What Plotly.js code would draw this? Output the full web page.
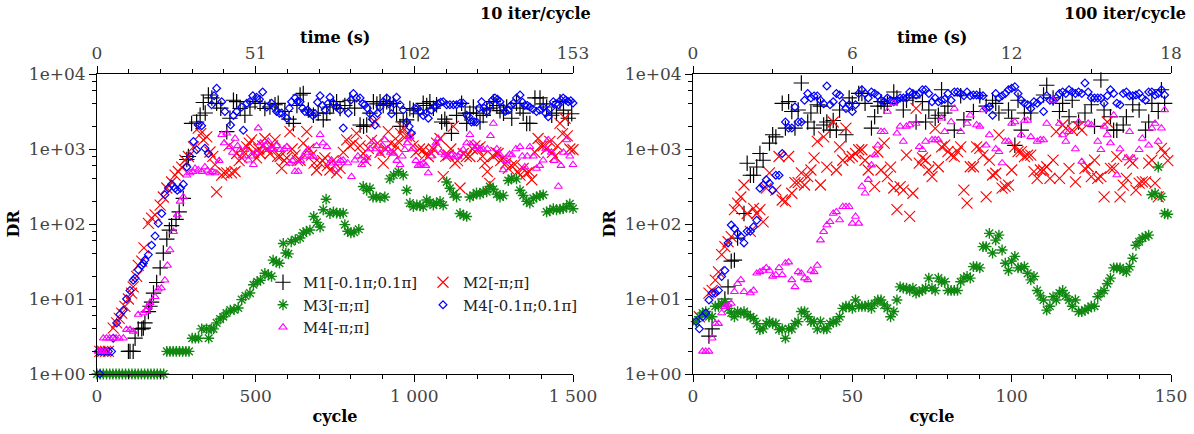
<!DOCTYPE html>
<html>
<head>
<meta charset="utf-8">
<script src="https://cdn.plot.ly/plotly-3.0.1.min.js"></script>
<style>html,body{margin:0;padding:0;background:#fff;}#chart{width:1194px;height:434px;}</style>
</head>
<body>
<div id="chart"></div>
<script>
// ---------------- data: left panel (10 iter/cycle) ----------------
const L_M1_cycle = [99,104,114,120,130,141,146,151,162,167,172,178,188,199,209,220,228,235,249,259,272,283,288,298,314,325,335,341,351,362,377,390,409,419,430,440,451,466,482,498,514,529,545,561,571,592,605,619,630,640,650,666,682,697,713,724,734,745,755,766,781,797,812,829,840,850,860,871,882,892,902,913,923,934,944,955,965,976,986,997,1012,1028,1039,1049,1060,1070,1086,1096,1102,1117,1133,1149,1160,1165,1175,1186,1196,1207,1217,1228,1238,1249,1260,1270,1281,1291,1307,1322,1333,1343,1354,1364,1380,1396,1406,1417,1433,1448,1459,1470,1485,1496];
const L_M1_DR = [2,2,2,3,4,4,4.1,4.8,6.8,8,9.1,12,16.6,26,41,63,83,95,115,145,219,724,794,2190,2290,2820,4170,3020,5250,4790,4070,3500,1700,2570,4470,4270,3470,2820,3630,4270,4070,3470,3630,3890,4070,3160,2500,2190,3800,5250,5500,3310,2820,3020,2450,3000,3630,3890,4270,3470,3800,4470,3500,2090,2000,2090,3000,4270,4000,4270,3800,4270,4000,4070,3000,2000,2300,2450,3470,3300,2950,4070,3800,4270,3500,3890,2290,2500,2190,1620,2800,4070,3000,2190,3000,3630,3000,2290,2800,3310,3500,4270,3800,3240,3000,3630,2570,4070,3500,3000,2190,2190,4790,4790,4000,3630,2820,3000,4270,3300,2570,2950];

const L_M2_cycle = [9,18,27,36,51,62,70,78,88,99,109,114,125,130,141,148,162,172,183,199,209,220,235,246,256,267,277,288,304,319,327,335,346,356,365,372,377,393,400,409,416,424,435,440,448,456,464,472,480,487,494,503,510,514,522,529,537,545,553,561,569,577,582,590,598,608,615,624,632,640,650,661,668,676,684,692,703,711,718,726,734,744,755,766,776,787,797,808,818,829,839,847,855,865,876,884,892,902,910,918,926,934,942,949,957,965,975,986,996,1005,1016,1028,1036,1044,1052,1060,1070,1081,1091,1099,1107,1115,1123,1128,1136,1144,1154,1164,1175,1183,1191,1199,1207,1215,1222,1230,1238,1249,1257,1264,1272,1280,1288,1296,1306,1317,1325,1333,1343,1354,1362,1370,1380,1390,1398,1406,1416,1427,1435,1443,1451,1459,1467,1475,1482,1490,1500];
const L_M2_DR = [2,2,2,2,4.1,4.8,5.5,6.5,8,10,12,14.5,20,28,32,48,102,120,132,178,229,302,363,447,501,575,708,794,1070,1900,1600,1320,1450,912,800,617,269,447,480,479,1120,479,501,871,700,759,900,1070,1200,1320,900,759,1000,871,1100,1380,1000,871,1100,1320,800,794,550,700,759,1700,1000,830,700,708,1200,1700,1000,830,650,525,650,700,759,600,525,700,479,550,900,1320,1100,1200,1620,1100,871,700,1020,1300,2290,1200,900,646,1000,1700,1200,912,1100,1260,1600,1900,1500,1450,1100,900,1000,977,850,794,900,1000,1200,1380,427,800,832,1000,2000,650,700,302,871,800,794,1000,1100,1000,1070,800,646,500,347,794,900,871,700,759,650,550,600,617,500,447,550,479,500,389,900,1380,1100,1100,1000,1260,900,794,1100,2190,1600,2570,1500,1000,977];

const L_M3_cycle = [0,10,20,30,40,50,60,70,80,90,100,110,120,130,140,150,160,170,180,190,200,210,220,230,240,250,260,270,280,290,300,310,320,330,345,352,360,367,377,388,398,408,420,432,445,456,468,482,493,505,515,529,540,550,555,565,575,587,595,603,612,625,640,650,660,671,683,693,703,713,722,734,745,755,766,776,781,790,800,810,825,839,850,860,870,880,892,907,923,935,950,965,976,986,997,1008,1018,1028,1039,1049,1060,1070,1081,1091,1102,1112,1123,1133,1144,1155,1165,1175,1186,1196,1207,1217,1228,1238,1249,1260,1270,1280,1296,1306,1322,1333,1343,1354,1364,1375,1385,1396,1406,1417,1427,1438,1448,1459,1469,1480,1490,1500];
const L_M3_DR = [1,1,1,1,1,1,1,1,1,1,1,1,1,1,1,1,1,1,1,1,1,1,2,2,2,2,2,2,2,2,3,3,3,4,4,3,4,4,4.8,5.4,5.8,6.5,7.1,7.2,7.6,9.8,11,12,15.5,17,17.8,22,21,20,33,31,30,55,41,40,58,62,65,76,80,83,126,105,91,155,214,138,145,140,138,140,98,80,76,78,85,316,282,300,229,229,225,229,400,450,500,450,282,190,170,180,175,170,209,195,178,190,200,178,363,300,250,229,138,130,126,229,240,260,250,269,269,316,290,250,229,240,380,407,400,282,240,200,190,220,229,240,245,145,150,160,155,158,160,170,186,160];

const L_M4a_cycle = [9,4,14,25,36,46,51,62,72,83,93,104,114,120,130,141,146,151,162,172,183,193,204,214,225,235,246,253,263,272,283,293,304,314,319,330,340,351,361,369,377,393,403,421,430,440,456,461,472,482,491,503,512,522,535,550,558,566,575,582,598,606,613,624,632,640,648,655,664,671,680,687,695,703,711,719,727,734,745,755,766,776,792,800,808,818,829,837,844,852,860,868,876,884,892,902,913,920,928,936,944,955,965,976,984,991,1002,1010,1018,1028,1036,1044,1054,1065,1075,1083,1091,1102,1112,1123,1133,1144,1154,1165,1172,1180,1188,1196,1204,1212,1220,1228,1238,1246,1254,1262,1270,1278,1286,1296,1304,1312,1322,1333,1341,1348,1356,1364,1374,1385,1395,1406,1414,1422,1430,1438,1446,1454,1462,1469,1477,1485,1493,1500];
const L_M4a_DR = [1,2,2,2,2,2,3,4.8,6.2,7.1,10,13,17.8,19,24.5,28,30,33,39,52,69,102,138,245,302,339,300,282,300,339,575,794,1260,977,2090,2040,1020,871,3890,5130,6460,4270,3160,2090,2800,3160,3630,1780,4070,4300,5130,4900,4600,5750,3630,4070,3600,3160,3000,3020,2570,3500,4270,4790,4300,4270,3500,3160,3300,3020,2800,2950,4200,5130,3800,3310,4000,4900,4070,3630,3310,1900,3020,4500,5500,4790,4790,4000,3890,3500,2950,2500,2090,3000,3630,4270,4790,4000,2950,4000,4900,3900,3300,2290,2000,1620,3470,3500,3160,2800,3000,2570,3300,3630,4000,4200,4270,3900,3890,3890,3890,4070,4070,2820,2700,2290,2300,2290,3500,4270,3500,3160,3800,4500,4790,4600,4270,3600,3160,3300,3800,4070,4800,5250,4200,3800,3800,3630,3400,3160,3300,3630,3000,2690,3500,4270,4000,3890,4500,4790,4500,4270,4400,4100];

const L_M4b_cycle = [4,12,20,30,20,30,40,50,60,70,83,93,104,114,130,146,155,162,167,183,193,203,214,222,230,241,253,262,272,283,293,302,309,319,330,340,348,356,364,372,385,393,401,409,419,427,435,443,451,458,466,477,485,493,500,508,516,524,532,540,548,556,566,577,590,598,608,616,624,634,642,650,658,666,674,682,692,703,712,724,734,739,750,760,768,776,790,802,813,822,834,843,850,860,871,880,892,900,907,916,925,934,945,955,962,970,978,986,996,1005,1012,1020,1028,1036,1044,1052,1060,1068,1075,1085,1096,1106,1117,1128,1138,1146,1154,1165,1175,1185,1196,1206,1217,1230,1240,1249,1260,1270,1280,1290,1300,1307,1320,1333,1340,1348,1356,1364,1375,1385,1395,1406,1414,1422,1432,1441,1454,1462,1470,1480,1490,1500];
const L_M4b_DR = [2,2,2,2,3,3,3,3,3,3,3,3.9,3.9,3.7,6.2,6.5,7,7.9,8.9,10.7,13.5,14,17.8,28,45,79,132,200,229,447,479,500,550,525,500,575,520,479,500,479,700,1550,1200,1620,1070,900,1380,1100,977,800,977,708,800,617,900,1900,1200,977,1100,1260,1000,1000,1100,977,1000,1070,646,700,501,501,700,794,900,977,800,794,1100,1550,1200,1070,646,708,525,650,700,708,650,427,708,800,617,700,759,1000,1260,1000,871,1100,1320,1000,900,871,700,617,800,977,1200,1450,1000,700,600,620,646,600,479,800,977,1200,1380,900,830,800,830,800,794,900,977,1200,1550,1200,1070,1000,977,1000,1500,2190,1000,830,525,700,850,830,1000,1070,800,575,800,1070,800,550,600,708,1000,1320,900,700,316,600,900,1320,800,617];

// ---------------- data: right panel (100 iter/cycle) ----------------
const R_M1_cycle = [5,6,10,11,12,13,14,16,17,18,19,20,21,22,24,25,26,28,29,30,31,32,33,34,36,37,38,39,40,41,42,43,44,45,46,48,49,50,52,53,54,56,57,58,59,60,61,63,64,66,67,69,70,72,73,74,76,77,78,79,80,82,84,85,88,90,92,94,95,96,99,100,101,102,103,104,106,110,111,113,115,116,118,119,121,123,125,126,128,129,131,132,133,135,136,138,140,142,143,144,146,147,148];
const R_M1_DR = [3.2,4,10,14.5,32,33,65,138,646,447,447,575,871,708,1200,1550,1450,4070,1900,4270,3160,1900,3310,7590,2290,3020,1900,3890,3720,2090,2290,1780,2400,1780,3310,1550,4790,4070,5500,5500,4070,1900,2690,3720,4270,3720,4070,5750,4790,3310,4470,4790,2290,4270,2290,3310,2570,2820,6170,3020,3720,1780,5130,2450,3160,5130,3720,4470,4070,3020,3310,2570,1120,4470,1780,3020,3020,5250,7080,4790,3160,4070,2690,4470,2290,3020,3890,2000,8320,3310,2690,1780,1780,2090,2690,3890,3310,1780,2290,4070,3160,6170,4070];

const R_M2_cycle = [2,5,6,7,8,9,10,11,12,13,14,15,16,17,18,19,20,21,22,23,24,26,27,28,29,30,31,32,33,34,35,36,37,38,39,40,41,42,44,45,46,47,48,49,50,51,52,53,54,55,57,58,59,60,61,62,63,64,65,66,67,68,69,70,71,72,73,74,75,76,77,78,79,80,81,82,83,84,85,86,87,88,89,90,91,92,93,94,95,96,97,98,99,100,101,102,103,104,105,106,107,108,109,110,111,112,113,114,115,116,117,118,119,120,121,122,123,124,125,126,127,128,129,130,131,132,133,134,135,136,137,138,139,140,141,142,143,144,145,146,147,148,149];
const R_M2_DR = [5.8,12,13,17.8,23,39,50,58,68,155,190,229,331,138,80,162,138,155,107,300,479,282,794,209,200,794,257,355,355,479,331,427,525,759,1260,331,1450,575,2290,525,1070,708,1900,759,794,871,977,977,708,525,316,912,525,1200,427,575,302,155,316,282,830,126,257,3470,646,759,708,525,427,1890,580,1070,1130,920,830,790,920,1070,282,190,580,580,1070,1020,830,230,710,450,475,1540,300,316,330,525,1070,920,920,790,830,830,500,407,525,525,580,407,710,1700,407,2090,1890,550,1780,365,1990,1780,550,580,427,710,407,427,230,2290,550,550,790,230,330,407,710,650,282,350,365,365,650,710,350,230,1020,880,700];

const R_M3_cycle = [1,2,3,4,5,6,7,8,9,10,11,12,13,14,15,16,17,18,19,20,21,22,23,24,25,26,27,28,29,30,31,32,33,34,35,36,37,38,39,40,41,42,43,44,45,46,47,48,49,50,51,52,53,54,55,56,57,58,59,60,61,62,63,64,65,66,67,68,69,70,71,72,73,74,75,76,77,78,79,80,81,82,83,84,85,86,87,88,89,90,91,92,93,94,95,96,97,98,99,100,101,102,103,104,105,106,107,108,109,110,111,112,113,114,115,116,117,118,119,120,121,122,123,124,125,126,127,128,129,130,131,132,133,134,135,136,137,138,139,140,141,142,143,144,145,146,147,148,149];
const R_M3_DR = [5,5.8,6.5,6.8,5.8,5.8,8,8,8.7,9.2,7.5,6.5,5.8,6.8,6.5,6.8,6.2,5.8,5.5,4.7,3.9,4,4.7,5,4.7,4.7,3.9,4,3,4,4,4.7,5,6.8,6.8,5.8,5,5,4,5,4,4,4.7,5,5,5.8,7.5,8,8,7.5,9.7,8,8,8,8.3,7.5,8.7,9.7,9.7,8.3,7.5,5.8,6.8,9.7,14.5,14,14,13,14,12,12.5,13,14,19,14,13,19,17,17,13,13,13,13,17,19,20,19,27,27,26,50,50,75,41,61,71,45,30,24,32,37,26,26,27,22,18,20,13,11,9.7,7.1,8,10.7,9.7,12,13,11,9.7,8,9.7,6.8,6.8,7.1,7.5,8,8,10.7,12,13,16,19,26,26,26,24,23,27,35,52,58,65,68,71,245,257,575,232,138,135];

const R_M4a_cycle = [1,2,3,4,5,6,7,8,9,10,11,12,13,14,15,16,17,18,19,20,21,22,23,24,25,26,27,28,29,30,31,32,33,34,35,36,37,38,39,40,41,42,43,44,45,46,47,48,49,50,51,52,53,54,55,56,57,58,59,60,61,62,63,64,65,66,67,68,69,70,71,72,73,74,75,76,77,78,79,80,81,82,83,84,85,86,87,88,89,90,91,92,93,94,95,96,97,98,99,100,101,102,103,104,105,106,107,108,109,110,111,112,113,114,115,116,117,118,119,120,121,122,123,124,125,126,127,128,129,130,131,132,133,134,135,136,137,138,139,140,141,142,143,144,145,146,147,148];
const R_M4a_DR = [5,4,5.8,6.5,9.7,12,12,13,20,24,56,97,87,75,68,56,80,80,92,112,300,331,389,350,282,447,447,871,2290,1900,1900,3630,2290,2290,4470,5500,4790,5100,5100,4470,4000,6920,3890,4270,5500,5250,4070,3470,3890,3160,3890,5500,6170,5500,4790,5750,5500,5130,4470,4270,4790,4470,4270,4470,4790,4790,4790,5750,5500,5250,5500,6170,6170,5500,4270,4790,4270,4470,4600,5500,4470,5750,5750,5500,5130,5750,5130,5250,5250,5130,5130,3470,3630,2820,5500,4790,5130,5500,6170,6460,6760,5500,4470,4070,3890,3470,4270,4070,4470,3160,5130,4470,4470,4790,5500,5750,5500,6170,5750,5500,5750,5500,7590,5750,4790,4790,4790,4790,4070,5130,6170,5500,4070,3890,5500,5750,5130,5130,5250,5500,4790,4470,5750,5750,5250,5500,6170,5250];

const R_M4b_cycle = [3,4,5,6,7,8,9,10,11,12,13,14,15,16,18,19,20,21,22,23,24,25,26,27,28,29,30,31,32,33,34,35,36,37,38,39,40,41,42,43,44,45,46,47,48,49,50,51,52,53,54,55,56,57,58,59,60,61,63,64,65,66,67,68,70,71,72,73,75,76,77,78,79,81,82,84,86,87,89,90,91,92,93,95,96,97,98,99,100,101,103,104,105,106,108,109,110,111,113,115,116,117,118,120,121,122,124,125,127,128,129,130,131,132,133,134,136,137,138,140,141,143,144,145,146,147,148];
const R_M4b_DR = [2,2,2,3,4.7,4.7,6.5,7.9,8.3,8.7,12.5,16,18,12.5,12,13,22,23,24,26,24,20,21,26,21,30,31,18,14.5,23,22,19,18,24,23,28,61,79,97,107,138,145,113,170,170,170,102,126,102,316,257,390,610,830,1120,1700,1700,3160,4070,1620,2000,1260,2000,2090,2190,1070,977,1260,1320,1320,1320,2570,1700,2290,3470,1700,2190,2820,2090,2000,3310,1120,1540,1000,920,650,1260,1260,2190,2290,1540,2400,2400,1450,1260,1320,1320,2190,4470,2190,1540,1260,1700,1000,2290,680,2190,2090,1260,977,2000,1540,1200,2820,450,1000,760,1700,760,977,1380,1120,1890,2190,1260,1890,3310];

// ---------------- tick labels ----------------
const yTickVals = [1,10,100,1000,10000];
const yTickText = ['1e+00','1e+01','1e+02','1e+03','1e+04'];
const yMinorVals = [2,4,6,8,20,40,60,80,200,400,600,800,2000,4000,6000,8000];
const xLTickVals = [0,500,1000,1500];
const xLTickText = ['0','500','1 000','1 500'];
const xRTickVals = [0,50,100,150];
const tLTickVals = [0,51,102,153];
const tRTickVals = [0,6,12,18];
const names = ['M1[-0.1π;0.1π]','M2[-π;π]','M3[-π;π]','M4[-0.1π;0.1π]','M4[-π;π]'];

// ---------------- styles ----------------
const FONT = 'DejaVu Serif';
const styles = {
  M1: {symbol:'cross-thin-open', size:11, color:'#000000', lw:1.2},
  M2: {symbol:'x-thin-open', size:11, color:'#ff0000', lw:1.1},
  M3: {symbol:'asterisk-open', size:9, color:'#118811', lw:1.4},
  M4a:{symbol:'diamond-open', size:6, color:'#0000ff', lw:1.2},
  M4b:{symbol:'triangle-up-open', size:7, color:'#ff00ff', lw:1.1}
};
function mk(x, y, name, st, xa, showlegend, legend){
  return {type:'scatter', mode:'markers', x:x, y:y, name:name, xaxis:xa, yaxis: xa==='x'?'y':'y2',
    cliponaxis:false, showlegend:showlegend, legend:legend, hoverinfo:'x+y+name',
    marker:{symbol:st.symbol, size:st.size, color:st.color, line:{color:st.color, width:st.lw}}};
}
const data = [
  mk(L_M1_cycle, L_M1_DR, names[0], styles.M1, 'x', true, 'legend'),
  mk(L_M2_cycle, L_M2_DR, names[1], styles.M2, 'x', true, 'legend2'),
  mk(L_M3_cycle, L_M3_DR, names[2], styles.M3, 'x', true, 'legend'),
  mk(L_M4a_cycle, L_M4a_DR, names[3], styles.M4a, 'x', true, 'legend2'),
  mk(L_M4b_cycle, L_M4b_DR, names[4], styles.M4b, 'x', true, 'legend'),
  mk(R_M1_cycle, R_M1_DR, names[0], styles.M1, 'x2', false, 'legend'),
  mk(R_M2_cycle, R_M2_DR, names[1], styles.M2, 'x2', false, 'legend'),
  mk(R_M3_cycle, R_M3_DR, names[2], styles.M3, 'x2', false, 'legend'),
  mk(R_M4a_cycle, R_M4a_DR, names[3], styles.M4a, 'x2', false, 'legend'),
  mk(R_M4b_cycle, R_M4b_DR, names[4], styles.M4b, 'x2', false, 'legend')
];

const W = 1194, H = 434;
const px = v => v / W, py = v => (H - v) / H;
const tickFont = {family:FONT, size:17, color:'#444'};
const titleFont = {family:FONT, size:16, color:'#000', weight:'bold'};
const common = {showgrid:false, zeroline:false, showline:true, linecolor:'#000', linewidth:1,
  ticks:'outside', ticklen:7, tickwidth:1, tickcolor:'#000', tickfont:tickFont, automargin:false, fixedrange:true};
const yDom = [py(374), py(74)];
function yax(anchor){
  return Object.assign({}, common, {type:'log', range:[0,4], domain:yDom, anchor:anchor,
    tickmode:'array', tickvals:yTickVals, ticktext:yTickText,
    minor:{tickmode:'array', tickvals:yMinorVals, ticks:'outside', ticklen:4, tickcolor:'#000', tickwidth:1}});
}
const layout = {
  width:W, height:H, margin:{l:0,r:0,t:0,b:0}, paper_bgcolor:'#fff', plot_bgcolor:'#fff',
  font:{family:FONT, color:'#222'},
  xaxis: Object.assign({}, common, {domain:[px(97), px(573)], range:[0,1500], anchor:'y',
    tickmode:'array', tickvals:xLTickVals, ticktext:xLTickText,
    minor:{dtick:100, ticks:'outside', ticklen:4, tickcolor:'#000', tickwidth:1},
    title:{text:'cycle', font:titleFont, standoff:5}}),
  yaxis: Object.assign(yax('x'), {title:{text:'DR', font:titleFont, standoff:5}}),
  xaxis2: Object.assign({}, common, {domain:[px(693), px(1171)], range:[0,150], anchor:'y2',
    tickmode:'array', tickvals:xRTickVals,
    minor:{dtick:10, ticks:'outside', ticklen:4, tickcolor:'#000', tickwidth:1},
    title:{text:'cycle', font:titleFont, standoff:5}}),
  yaxis2: Object.assign(yax('x2'), {title:{text:'DR', font:titleFont, standoff:5}}),
  xaxis3: Object.assign({}, common, {overlaying:'x', side:'top', anchor:'y', range:[0,153],
    tickmode:'array', tickvals:tLTickVals,
    minor:{dtick:10.2, ticks:'outside', ticklen:4, tickcolor:'#000', tickwidth:1}}),
  xaxis4: Object.assign({}, common, {overlaying:'x2', side:'top', anchor:'y2', range:[0,18],
    tickmode:'array', tickvals:tRTickVals,
    minor:{dtick:3, ticks:'outside', ticklen:4, tickcolor:'#000', tickwidth:1}}),
  legend: {x:px(263), y:py(266), xanchor:'left', yanchor:'top', orientation:'v', bgcolor:'rgba(0,0,0,0)',
    font:{family:FONT, size:15, color:'#222'}, tracegroupgap:0, itemclick:false, itemdoubleclick:false},
  legend2: {x:px(423), y:py(266), xanchor:'left', yanchor:'top', orientation:'v', bgcolor:'rgba(0,0,0,0)',
    font:{family:FONT, size:15, color:'#222'}, tracegroupgap:0, itemclick:false, itemdoubleclick:false},
  annotations: [
    {text:'10 iter/cycle', xref:'paper', yref:'paper', x:px(593), y:py(13), xanchor:'right', yanchor:'middle', showarrow:false, font:titleFont},
    {text:'100 iter/cycle', xref:'paper', yref:'paper', x:px(1188), y:py(13), xanchor:'right', yanchor:'middle', showarrow:false, font:titleFont},
    {text:'time (s)', xref:'paper', yref:'paper', x:px(335), y:py(38), xanchor:'center', yanchor:'middle', showarrow:false, font:titleFont},
    {text:'time (s)', xref:'paper', yref:'paper', x:px(932), y:py(38), xanchor:'center', yanchor:'middle', showarrow:false, font:titleFont}
  ]
};
// empty traces that register the top time axes
data.push({type:'scatter', mode:'markers', x:[], y:[], xaxis:'x3', yaxis:'y', showlegend:false, hoverinfo:'skip'});
data.push({type:'scatter', mode:'markers', x:[], y:[], xaxis:'x4', yaxis:'y2', showlegend:false, hoverinfo:'skip'});
Plotly.newPlot('chart', data, layout, {staticPlot:true, displayModeBar:false});
</script>
</body>
</html>
